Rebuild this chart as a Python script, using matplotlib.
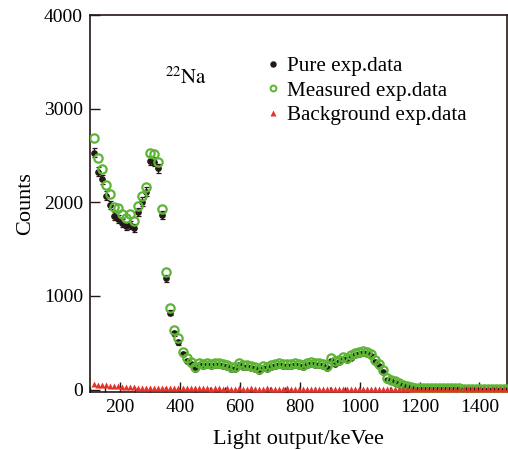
import numpy as np
import matplotlib
matplotlib.use('Agg')
from matplotlib import pyplot as plt
from matplotlib.lines import Line2D
from matplotlib.ticker import MultipleLocator

plt.rcParams['font.family'] = ['Liberation Serif', 'DejaVu Serif']
plt.rcParams['mathtext.fontset'] = 'stix'

# light output channels (keVee), one point per channel
energy = 114 + 13.4 * np.arange(104)

measured = [2684, 2476, 2359, 2185, 2089, 1953, 1942, 1872, 1829, 1872, 1800,
            1960, 2071, 2160, 2523, 2516, 2431, 1932, 1255, 867, 636, 547,
            404, 333, 297, 244, 286, 272, 286, 272, 286, 280,
            272, 262, 237, 244, 286, 262, 262, 254, 244, 222,
            254, 244, 262, 272, 286, 272, 272, 272, 280, 272,
            262, 286, 297, 286, 280, 272, 254, 333, 300, 320,
            347, 340, 364, 390, 404, 410, 404, 382, 320, 272,
            208, 119, 105, 92, 73, 50, 37, 28, 20,
            18, 17, 16, 15, 15, 14, 13, 13, 12, 12, 12, 11,
            11, 10, 10, 10, 9, 9, 9, 8, 8, 8, 8]

pure = [2530, 2327, 2246, 2071, 1971, 1853, 1818, 1776, 1747, 1758, 1722,
        1900, 2006, 2113, 2444, 2434, 2363, 1864, 1188, 820, 600, 504,
        379, 308, 272, 219, 262, 250, 262, 250, 262, 258,
        250, 240, 215, 222, 262, 240, 240, 232, 222, 200,
        232, 222, 240, 250, 262, 250, 250, 250, 258, 250,
        240, 262, 275, 262, 258, 250, 232, 310, 278, 298,
        325, 318, 342, 368, 382, 388, 382, 360, 298, 250,
        188, 100, 88, 75, 56, 34, 22, 14, 8,
        5, 4, 4, 3, 3, 3, 2, 2, 2, 2, 1, 1,
        1, 1, 1, 0, 0, 0, 0, 0, 0, 0, 0]

background = [60, 52, 48, 45, 40, 38, 35, 30, 28, 25, 22, 20,
              18, 16, 17, 15, 16, 14, 15, 16, 14, 15, 13, 14,
              12, 13, 14, 12, 13, 11, 12, 13, 11, 12, 10, 11,
              12, 10, 11, 12, 10, 11, 10, 12, 11, 10, 11, 10,
              12, 10, 11, 10, 9, 11, 10, 9, 10, 11, 9, 10,
              9, 10, 11, 9, 10, 9, 10, 9, 11, 9, 10, 9,
              8, 9, 10, 8, 9, 8, 9, 8, 9, 8, 8, 9,
              8, 7, 8, 8, 7, 8, 7, 8, 7, 7, 8, 7,
              7, 6, 7, 7, 6, 7, 6, 6]

BLACK = '#231815'
GREEN = '#5db535'
RED = '#e6332a'

fig = plt.figure(figsize=(5.08, 4.5), dpi=100)
ax = fig.add_axes([90 / 508, 1 - 391.7 / 450, 417 / 508, 376.7 / 450])

pure_err = np.sqrt(np.array(pure) + 2 * np.array(background))
ax.errorbar(energy, pure, yerr=pure_err, fmt='o', color=BLACK, ms=3.8,
            elinewidth=0.9, capsize=1.8, capthick=0.9, zorder=3)
ax.plot(energy, measured, 'o', ms=6.0, mfc='none', mec=GREEN, mew=1.6, zorder=4)
ax.plot(energy, background, '^', ms=4.4, color=RED, mec='none', zorder=5)

ax.set_xlim(100, 1492)
ax.set_ylim(-23, 4000)
ax.xaxis.set_major_locator(MultipleLocator(200))
ax.xaxis.set_minor_locator(MultipleLocator(50))
ax.yaxis.set_major_locator(MultipleLocator(1000))
ax.tick_params(which='both', direction='in', top=False, right=False,
               color=BLACK, width=1.0, labelsize=14, labelcolor='black')
ax.tick_params(which='major', length=7, pad=5)
ax.tick_params(which='minor', length=3.5)
for spine in ax.spines.values():
    spine.set_color(BLACK)
    spine.set_linewidth(1.2)

ax.set_xlabel('Light output/keVee', fontsize=16, labelpad=10)
ax.set_ylabel('Counts', fontsize=16, labelpad=6)

ax.text(0.18, 0.833, r'$^{22}\mathrm{Na}$', transform=ax.transAxes,
        fontsize=15, va='center', ha='left')

handles = [Line2D([], [], ls='none', marker='o', ms=3.6, color=BLACK),
           Line2D([], [], ls='none', marker='o', ms=4.2, mfc='none', mec=GREEN, mew=1.4),
           Line2D([], [], ls='none', marker='^', ms=3.8, color=RED, mec='none')]
labels = ['Pure exp.data', 'Measured exp.data', 'Background exp.data']
ax.legend(handles, labels, loc='upper left', bbox_to_anchor=(0.403, 0.912),
          frameon=False, fontsize=15.2, handlelength=0.6, handletextpad=0.35,
          labelspacing=0.22, borderaxespad=0)

fig.savefig('out.png', dpi=100)
